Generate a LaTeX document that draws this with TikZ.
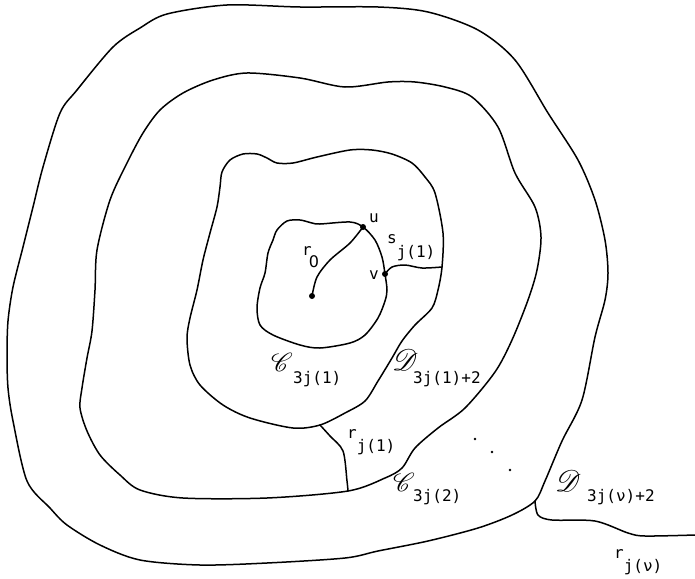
\documentclass[tikz,border=0pt]{standalone}
\usepackage{fontspec}
\usepackage{mathrsfs}
\newfontfamily\plotfont{DejaVu Sans Mono}
\newfontfamily\plotsans{DejaVu Sans}
\tikzset{
  curve/.style={line width=1.5pt, line join=round, line cap=round},
  dotmark/.style={circle, fill=black, inner sep=0pt, minimum size=6pt},
  tinydot/.style={circle, fill=black, inner sep=0pt, minimum size=2.8pt},
  lbl/.style={inner sep=0pt, anchor=base west, font=\plotfont\fontsize{16}{19}\selectfont},
  scr/.style={inner sep=0pt, anchor=base west, font=\fontsize{10}{12}\selectfont},
}
\begin{document}
\begin{tikzpicture}[x=1pt,y=-1pt]
\useasboundingbox (0,0) rectangle (695,578);
% junction coordinates
\coordinate (u) at (363,227);
\coordinate (v) at (385,274);
\coordinate (send) at (442,267);
\coordinate (r1a) at (320,425);
\coordinate (r1b) at (348,491);
\coordinate (rva) at (535,501);
\coordinate (r0) at (312,296);

% outermost curve
\draw[curve] plot[smooth cycle] coordinates {
 (167,14) (227,5) (300,7) (378,7) (428,12) (478,30) (515,60) (548,113)
 (578,160) (595,200) (605,240) (608,273) (605,300) (595,337) (582,400)
 (562,441) (545,481) (rva) (512,515) (478,528) (428,541) (378,551)
 (345,558) (267,563) (200,565) (140,560) (100,545) (67,525) (50,508)
 (27,481) (13,421) (8,388) (7,355) (8,321) (13,287) (23,247) (33,207)
 (43,167) (60,113) (77,90) (113,47) (140,28)};

% third curve
\draw[curve] plot[smooth cycle] coordinates {
 (213,80) (247,73) (300,78) (345,87) (388,82) (415,82) (445,87) (472,97)
 (498,127) (515,173) (535,207) (541,237) (537,270) (528,300) (512,340)
 (495,372) (465,408) (438,428) (415,448) (402,468) (385,478) (r1b)
 (267,498) (183,498) (140,490) (120,475) (100,455) (87,431) (80,408)
 (82,388) (87,358) (92,331) (95,290) (97,250) (110,200) (127,163)
 (143,133) (160,110) (183,93)};

% second curve
\draw[curve] plot[smooth cycle] coordinates {
 (222,172) (230,160) (243,154) (257,154) (267,158) (277,163) (293,163)
 (317,157) (350,150) (372,150) (392,154) (412,163) (425,177) (435,193)
 (443,233) (send) (438,290) (432,308) (415,325) (402,341) (392,358)
 (378,381) (365,401) (345,413) (r1a) (293,428) (250,418) (223,405)
 (200,385) (190,365) (187,338) (190,318) (197,290) (203,260) (210,233)
 (217,207) (220,187)};

% innermost curve
\draw[curve] plot[smooth cycle] coordinates {
 (277,230) (287,221) (300,220) (312,223) (320,224) (350,222) (u)
 (375,240) (382,257) (v) (387,290) (385,301) (378,318) (365,335)
 (350,343) (320,348) (300,345) (273,335) (260,325) (257,308) (260,288)
 (265,273) (268,253) (273,240)};

% paths
\draw[curve] plot[smooth] coordinates {(r0) (317,277) (330,260) (350,243) (u)};
\draw[curve] plot[smooth] coordinates {(v) (392,267) (405,265) (422,268) (send)};
\draw[curve] plot[smooth] coordinates {(r1a) (330,436) (343,451) (347,481) (r1b)};
\draw[curve] plot[smooth] coordinates {(rva) (538,515) (552,520) (595,521) (628,533) (645,536) (695,535)};

% points
\node[dotmark] (p0) at (r0) {};
\node[dotmark] (pu) at (u) {};
\node[dotmark] (pv) at (v) {};
\node[tinydot] (d1) at (475,439) {};
\node[tinydot] (d2) at (492,452) {};
\node[tinydot] (d3) at (510,470) {};

% labels
\node[lbl] (lu) at (369,222) {u};
\node[lbl] (lv) at (369,279) {v};
\node[lbl] (lr0) at (302,255) {r\kern-3pt\raisebox{-12pt}{\plotsans 0}};
\node[lbl] (ls) at (387,243) {s\raisebox{-14pt}{j(1)}};
\node[lbl] (lr1) at (347,438) {r\raisebox{-13pt}{j(1)}};
\node[lbl] (lrv) at (614,558) {r\raisebox{-13pt}{j(ν)}};

\node[scr] (lc1) at (271,371) {\scalebox{2.6}{$\mathscr{C}$}};
\node[lbl] (lc1s) at (293,383) {3j(1)};
\node[scr] (ld1) at (392,370) {\scalebox{3.0}{$\mathscr{D}$}};
\node[lbl] (ld1s) at (413,383) {3j(1)+2};
\node[scr] (lc2) at (393,491) {\scalebox{2.6}{$\mathscr{C}$}};
\node[lbl] (lc2s) at (413,501) {3j(2)};
\node[scr] (ldv) at (555,491) {\scalebox{3.0}{$\mathscr{D}$}};
\node[lbl] (ldvs) at (587,501) {3j(ν)+2};
\end{tikzpicture}
\end{document}
